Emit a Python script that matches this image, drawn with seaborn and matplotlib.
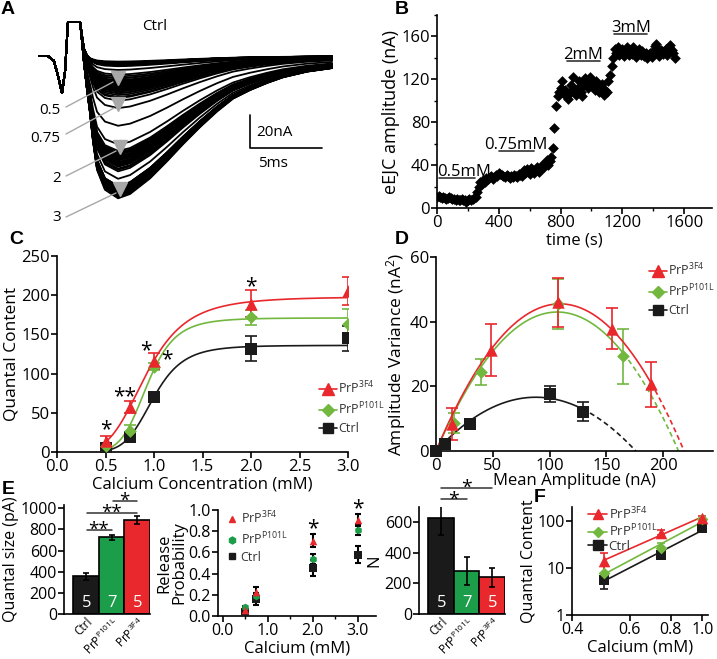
import numpy as np
import pandas as pd
import seaborn as sns
import matplotlib.pyplot as plt
from matplotlib.lines import Line2D
from matplotlib.ticker import FixedLocator, FixedFormatter, NullLocator, MultipleLocator

W, H = 717, 659

# ---------------- panel A : trace template
A_TIME_MS = [0, 0.69, 1.11, 1.39, 1.67, 1.88, 2.08, 2.78, 2.92, 3.06, 3.19, 3.40, 3.61, 3.82,
             4.10, 4.65, 5.56, 6.39, 7.78, 8.96, 10.07, 11.25, 12.43, 13.54, 14.72, 15.90,
             17.01, 18.68, 20.42]
A_ARTIFACT = [0, 0, -5.4, -21.5, -39.8, -16.1, 36.6, 36.6, 36.6, 21.5, 8.6, 2.2,
              0, 0, 0, 0, 0, 0, 0, 0, 0, 0, 0, 0, 0, 0, 0, 0, 0]
A_SHAPE = [0, 0, 0, 0, 0, 0, 0, 0, 0, 0.04, 0.1, 0.25, 0.4, 0.6, 0.8, 0.94, 1.0, 0.97,
           0.86, 0.74, 0.62, 0.50, 0.39, 0.30, 0.24, 0.19, 0.15, 0.11, 0.085]
A_LEVELS = ["0.5", "0.75", "2", "3"]

# ---------------- panel B : eEJC amplitude every 10 s
B_STEP_S = 10
B_AMP = [10, 11, 10, 9, 10, 9, 8, 9, 10, 9,
         8, 8, 7, 8, 7, 7, 8, 7, 7, 6, 7, 8, 7, 8, 9,
         10, 15, 20, 24, 22,
         26, 24, 28, 27, 29, 30, 27, 29, 31, 30,
         33, 32, 31, 30, 29, 31, 30, 28, 30, 29, 31, 30, 29, 32, 31, 30,
         35, 33, 36, 34, 32, 37, 35, 33, 36, 38, 34, 37, 40, 38,
         42, 45, 40, 44,
         48, 56, 75, 95, 104, 108,
         112, 118, 106, 110, 104, 102, 108, 115, 122, 110, 105, 112, 118, 108, 104,
         115, 121, 118, 112, 122, 119, 116, 110, 118, 114, 108, 112, 116, 105, 110,
         108, 118, 124, 132, 140,
         148, 145, 150, 143, 146, 148, 142, 145, 150, 143, 147, 144, 150, 145, 141,
         146, 148, 143, 146, 142, 145, 140, 143, 145, 141, 146, 151, 153, 145, 142,
         147, 144, 146, 148, 143, 150, 152, 147, 145, 140]
B_WIN_LABEL = ["0.5mM", "0.75mM", "2mM", "3mM"]
B_WIN_START = [15, 400, 840, 1145]
B_WIN_END = [245, 625, 1055, 1360]
B_WIN_LEVEL = [28, 53, 137, 162]
B_WIN_TEXT_X = [175, 512, 948, 1255]

# ---------------- panel C : quantal content vs calcium
CA_MM = [0.5, 0.75, 1.0, 2.0, 3.0]
QC_3F4 = [14, 57, 116, 189, 205]
QC_3F4_ERR = [6.5, 7.5, 10, 17, 18]
QC_P101L = [8, 27, 109, 172, 163]
QC_P101L_ERR = [3, 7, 4, 9.5, 19]
QC_CTRL = [5.6, 19.4, 70, 132, 145]
QC_CTRL_ERR = [2, 3, 4, 16, 16]
HILL_MAX = [198, 171, 136]      # 3F4, P101L, Ctrl
HILL_K = [0.92, 0.93, 0.99]
HILL_N = [4.4, 6.5, 6.4]

# ---------------- panel D : variance-mean
MEAN_3F4 = [13.8, 48.5, 107.8, 155.4, 189.4]
VAR_3F4 = [8.4, 31.3, 46.0, 37.8, 20.6]
VAR_3F4_ERR = [5, 8, 7.5, 6.3, 7]
MEAN_P101L = [15.9, 39.4, 107.8, 165.0]
VAR_P101L = [8.6, 24.4, 45.4, 29.3]
VAR_P101L_ERR = [3, 4, 7.7, 8.5]
MEAN_CTRL = [0, 7.9, 29.9, 100.4, 129.2]
VAR_CTRL = [0, 2.3, 8.2, 17.7, 12.2]
VAR_CTRL_ERR = [0, 0, 0, 2.5, 3]

# ---------------- panel E
GROUPS = ["Ctrl", "PrP$^{P101L}$", "PrP$^{3F4}$"]
N_NMJ = [5, 7, 5]
QSIZE = [355, 725, 889]
QSIZE_ERR = [33, 25, 38]
E1_SIG_LEFT = [0, 0, 1]
E1_SIG_RIGHT = [1, 2, 2]
E1_SIG_Y = [795, 959, 1072]
E1_SIG_TEXT = ["**", "**", "*"]

PR_CA = [0.5, 0.75, 2.0, 3.0]
PR_3F4 = [0.054, 0.229, 0.711, 0.905]
PR_3F4_ERR = [0.01, 0.04, 0.06, 0.06]
PR_P101L = [0.086, 0.19, 0.537, 0.816]
PR_P101L_ERR = [0.01, 0.03, 0.05, 0.05]
PR_CTRL = [0.038, 0.156, 0.451, 0.578]
PR_CTRL_ERR = [0.01, 0.05, 0.076, 0.08]
PR_SIG_X = [2.0, 3.0]

N_SITES = [631, 281, 239]
N_SITES_ERR = [112, 92, 65]
E3_SIG_LEFT = [0, 0]
E3_SIG_RIGHT = [1, 2]
E3_SIG_Y = [750, 827]

LEG_LABELS = ["PrP$^{3F4}$", "PrP$^{P101L}$", "Ctrl"]

RED = "#e8282c"
LIME = "#72b83f"
GREEN = "#1b9d4a"
BLACK = "#1a1a1a"

sns.set_style("ticks")
plt.rcParams['font.family'] = ['Open Sans', 'DejaVu Sans']
plt.rcParams['mathtext.default'] = 'regular'
plt.rcParams.update({
    'font.size': 11, 'axes.linewidth': 1.2, 'axes.edgecolor': 'black',
    'axes.facecolor': 'none',
    'axes.labelcolor': 'black', 'text.color': 'black',
    'xtick.color': 'black', 'ytick.color': 'black',
    'xtick.major.width': 1.2, 'ytick.major.width': 1.2,
    'xtick.minor.width': 1.0, 'ytick.minor.width': 1.0,
    'xtick.major.size': 4, 'ytick.major.size': 4,
    'xtick.minor.size': 2.5, 'ytick.minor.size': 2.5,
    'xtick.major.pad': 1, 'ytick.major.pad': 1, 'axes.labelpad': 1,
})

fig = plt.figure(figsize=(W / 100, H / 100), dpi=100, facecolor='white')


def add_ax(l, t, r, b):
    return fig.add_axes([l / W, 1 - b / H, (r - l) / W, (b - t) / H])


def ftext(x, y, s, **kw):
    fig.text(x / W, 1 - y / H, s, **kw)


def fline(xs, ys, **kw):
    fig.add_artist(Line2D([x / W for x in xs], [1 - y / H for y in ys],
                          transform=fig.transFigure, **kw))


def stars(ax, x, y, s, size=15):
    ax.annotate(s, (x, y), xytext=(0, -0.5 * size), textcoords='offset points',
                ha='center', va='baseline', fontsize=size, annotation_clip=False)


def despine(ax):
    ax.spines['top'].set_visible(False)
    ax.spines['right'].set_visible(False)


def small_legend(ax, cols, marks, sizes, x, y, line=True, **kw):
    handles = [Line2D([0], [0], color=c, marker=m, ms=s, mec=c, lw=1.2 if line else 0)
               for c, m, s in zip(cols, marks, sizes)]
    opts = dict(frameon=False, fontsize=9, handlelength=1.4, handletextpad=0.15,
                labelspacing=0.35, borderaxespad=0, labelcolor='#333333')
    opts.update(kw)
    ax.legend(handles, LEG_LABELS, loc='upper left', bbox_to_anchor=(x / W, 1 - y / H),
              bbox_transform=fig.transFigure, **opts)


# ================= A
axA = add_ax(38, 15, 340, 225)
axA.axis('off')
rows = []
for k, amp in enumerate(B_AMP):
    for t, art, sh in zip(A_TIME_MS, A_ARTIFACT, A_SHAPE):
        rows.append((k, t, art - amp * sh))
traces = pd.DataFrame(rows, columns=['trace', 't', 'i'])
sns.lineplot(data=traces, x='t', y='i', units='trace', estimator=None,
             color='black', lw=1.3, ax=axA)
axA.set_xlim(0, 20.97)
axA.set_ylim(-181.7, 44.1)

ftext(155, 27, "Ctrl", ha='center', va='center', fontsize=11)
for lab, (lx, ly), (x0, y0, x1, y1), (tx, ty) in zip(
        A_LEVELS,
        [(50, 110), (45, 138), (57, 179), (57, 217)],
        [(66, 107, 113, 82), (66, 134, 114, 108), (66, 176, 116, 151), (66, 217, 116, 193)],
        [(118, 78), (118, 104), (120, 147), (120, 189)]):
    ftext(lx, ly, lab, ha='center', va='center', fontsize=11)
    fline([x0, x1], [y0, y1], color='#a8a8a8', lw=1.0)
    fline([tx], [ty], marker='v', ms=10, color='#a8a8a8', mec='#a8a8a8', lw=0)
fline([250, 250, 322], [115, 148, 148], color='black', lw=1.2)
ftext(256, 133, "20nA", ha='left', va='center', fontsize=11)
ftext(273, 164, "5ms", ha='center', va='center', fontsize=11)

# ================= B
axB = add_ax(437, 15, 712, 208)
b_time = np.arange(len(B_AMP)) * B_STEP_S
sns.scatterplot(x=b_time, y=B_AMP, marker='D', s=30, color='black',
                edgecolor='black', linewidth=0, ax=axB)
for lab, s0, s1, lev, tx in zip(B_WIN_LABEL, B_WIN_START, B_WIN_END, B_WIN_LEVEL, B_WIN_TEXT_X):
    axB.plot([s0, s1], [lev, lev], color='#333333', lw=1.2)
    axB.text(tx, lev + 2, lab, ha='center', va='baseline', fontsize=12)
axB.set_xlim(0, 1780)
axB.set_ylim(0, 180)
axB.set_xticks([0, 400, 800, 1200, 1600])
axB.set_yticks([0, 40, 80, 120, 160])
axB.xaxis.set_minor_locator(MultipleLocator(200))
axB.yaxis.set_minor_locator(MultipleLocator(20))
axB.tick_params(labelsize=12)
axB.set_xlabel("time (s)", fontsize=12)
axB.set_ylabel("eEJC amplitude (nA)", fontsize=13)
despine(axB)

# ================= C
axC = add_ax(57, 256, 348, 452)
ca_fit = np.linspace(CA_MM[0], CA_MM[-1], 200)
c_sets = [(QC_3F4, QC_3F4_ERR, RED, '^', 80), (QC_P101L, QC_P101L_ERR, LIME, 'D', 42),
          (QC_CTRL, QC_CTRL_ERR, BLACK, 's', 70)]
for k in [2, 1, 0]:
    vals, err, col, mk, sz = c_sets[k]
    hill = HILL_MAX[k] * ca_fit ** HILL_N[k] / (HILL_K[k] ** HILL_N[k] + ca_fit ** HILL_N[k])
    sns.lineplot(x=ca_fit, y=hill, color=col, lw=1.2, ax=axC)
    axC.errorbar(CA_MM, vals, yerr=err, fmt='none', ecolor=col, elinewidth=1.2, capsize=4, capthick=1.2)
    sns.scatterplot(x=CA_MM, y=vals, marker=mk, s=sz, color=col, edgecolor=col, linewidth=0, ax=axC, zorder=5)
for x, y, s in zip([0.5, 0.7, 0.92, 1.13, 2.0], [35, 77, 135, 124, 217], ["*", "**", "*", "*", "*"]):
    stars(axC, x, y, s)
axC.set_xlim(0, 3.0)
axC.set_ylim(0, 250)
axC.set_xticks([0, 0.5, 1.0, 1.5, 2.0, 2.5, 3.0])
axC.set_yticks([0, 50, 100, 150, 200, 250])
axC.xaxis.set_major_formatter('{x:.1f}')
axC.tick_params(labelsize=12)
axC.set_xlabel("Calcium Concentration (mM)", fontsize=12)
axC.set_ylabel("Quantal Content", fontsize=12.5)
despine(axC)
small_legend(axC, [RED, LIME, BLACK], ['^', 'D', 's'], [8, 6, 7.5], 314, 375)

# ================= D
axD = add_ax(436, 257, 713, 451)
d_sets = [(MEAN_3F4, VAR_3F4, VAR_3F4_ERR, RED, '^', 80),
          (MEAN_P101L, VAR_P101L, VAR_P101L_ERR, LIME, 'D', 42),
          (MEAN_CTRL, VAR_CTRL, VAR_CTRL_ERR, BLACK, 's', 70)]
for k in [2, 1, 0]:
    mx, vy, ve, col, mk, sz = d_sets[k]
    mx = np.array(mx, float)
    coef, *_ = np.linalg.lstsq(np.column_stack([mx, mx ** 2]), np.array(vy, float), rcond=None)
    x_end = -coef[0] / coef[1]
    xs = np.linspace(0, mx.max(), 150)
    xd = np.linspace(mx.max(), x_end, 60)
    sns.lineplot(x=xs, y=coef[0] * xs + coef[1] * xs ** 2, color=col, lw=1.2, ax=axD)
    axD.plot(xd, coef[0] * xd + coef[1] * xd ** 2, color=col, lw=1.2, ls=(0, (3, 2)))
    axD.errorbar(mx, vy, yerr=ve, fmt='none', ecolor=col, elinewidth=1.2, capsize=4, capthick=1.2)
    sns.scatterplot(x=mx, y=vy, marker=mk, s=sz, color=col, edgecolor=col, linewidth=0, ax=axD,
                    zorder=5, clip_on=False)
axD.set_xlim(0, 244)
axD.set_ylim(0, 60)
axD.set_xticks([0, 50, 100, 150, 200])
axD.set_yticks([0, 20, 40, 60])
axD.tick_params(labelsize=12)
axD.set_xlabel("Mean Amplitude (nA)", fontsize=12, labelpad=-1)
axD.set_ylabel("Amplitude Variance (nA$^2$)", fontsize=12.5)
despine(axD)
small_legend(axD, [RED, LIME, BLACK], ['^', 'D', 's'], [8, 6, 7.5], 644, 257)


# ================= E bars
def bar_panel(ax, vals, errs, ylim, yticks):
    sns.barplot(x=GROUPS, y=vals, hue=GROUPS, palette=[BLACK, GREEN, RED], width=1.0,
                saturation=1, edgecolor='black', linewidth=1.2, legend=False, ax=ax)
    ax.errorbar(range(3), vals, yerr=errs, fmt='none', ecolor='black', elinewidth=1.2,
                capsize=2.5, capthick=1.2)
    for i, n in enumerate(N_NMJ):
        ax.text(i, ylim * 0.1, str(n), color='white', ha='center', va='center', fontsize=12)
    ax.set_xlim(-0.87, 2.5)
    ax.set_ylim(0, ylim)
    ax.set_yticks(yticks)
    ax.set_xlabel("")
    ax.tick_params(axis='y', labelsize=11.5)
    ax.tick_params(axis='x', length=0, labelsize=8.5, pad=1)
    for lab in ax.get_xticklabels():
        lab.set_rotation(45)
        lab.set_ha('right')
        lab.set_rotation_mode('anchor')
    despine(ax)


axE1 = add_ax(64, 505, 150, 614)
bar_panel(axE1, QSIZE, QSIZE_ERR, 1030, [0, 200, 400, 600, 800, 1000])
axE1.set_ylabel("Quantal size (pA)", fontsize=11.5)
for l, r, y, s in zip(E1_SIG_LEFT, E1_SIG_RIGHT, E1_SIG_Y, E1_SIG_TEXT):
    axE1.plot([l + 0.05, r], [y, y], color='#333333', lw=1.1, clip_on=False)
    stars(axE1, (l + r) / 2, y + 40, s, size=13.5)

axE3 = add_ax(419, 507, 505, 614)
bar_panel(axE3, N_SITES, N_SITES_ERR, 700, [0, 200, 400, 600])
axE3.set_ylabel("N", fontsize=12, labelpad=2)
for l, r, y in zip(E3_SIG_LEFT, E3_SIG_RIGHT, E3_SIG_Y):
    axE3.plot([l, r], [y, y], color='#333333', lw=1.1, clip_on=False)
    stars(axE3, (l + r) / 2, y + 30, "*", size=14)

# ================= E release probability
axE2 = add_ax(218, 510, 376, 616)
e_sets = [(PR_3F4, PR_3F4_ERR, RED, '^', 30), (PR_P101L, PR_P101L_ERR, GREEN, 'h', 30),
          (PR_CTRL, PR_CTRL_ERR, BLACK, 's', 30)]
for k in [2, 1, 0]:
    vals, err, col, mk, sz = e_sets[k]
    axE2.errorbar(PR_CA, vals, yerr=err, fmt='none', ecolor='black', elinewidth=1.5, capsize=2, capthick=1.5)
    sns.scatterplot(x=PR_CA, y=vals, marker=mk, s=sz, color=col, edgecolor=col, linewidth=0,
                    ax=axE2, zorder=5)
for x, y in zip(PR_SIG_X, [0.87, 1.06]):
    stars(axE2, x, y, "*", size=15)
axE2.set_xlim(-0.1, 3.4)
axE2.set_ylim(0, 1.0)
axE2.set_xticks([0, 1, 2, 3])
axE2.xaxis.set_major_formatter('{x:.1f}')
axE2.xaxis.set_minor_locator(MultipleLocator(0.5))
axE2.set_yticks([0, 0.2, 0.4, 0.6, 0.8, 1.0])
axE2.yaxis.set_major_formatter('{x:.1f}')
axE2.tick_params(labelsize=11.5)
axE2.set_xlabel("Calcium (mM)", fontsize=12)
axE2.set_ylabel("Release\nProbability", fontsize=12, linespacing=0.9)
despine(axE2)
small_legend(axE2, [RED, GREEN, BLACK], ['^', 'h', 's'], [5, 5, 5], 222, 505, line=False,
             handlelength=0.8, handletextpad=0.3, labelspacing=0.3)

# ================= F
axF = add_ax(572, 507, 708, 615)
f_sets = [(QC_3F4, QC_3F4_ERR, RED, '^', 70), (QC_P101L, QC_P101L_ERR, LIME, 'D', 36),
          (QC_CTRL, QC_CTRL_ERR, BLACK, 's', 60)]
ca_low = np.array(CA_MM[:3])
for k in [2, 1, 0]:
    vals, err, col, mk, sz = f_sets[k]
    v = np.array(vals[:3], float)
    slope, icpt = np.polyfit(np.log10(ca_low), np.log10(v), 1)
    xs = np.array([ca_low.min(), ca_low.max()])
    sns.lineplot(x=xs, y=10 ** (icpt + slope * np.log10(xs)), color=col, lw=1.2, ax=axF)
    axF.errorbar(ca_low, v, yerr=err[:3], fmt='none', ecolor=col, elinewidth=1.2, capsize=3, capthick=1.2)
    sns.scatterplot(x=ca_low, y=v, marker=mk, s=sz, color=col, edgecolor=col, linewidth=0, ax=axF,
                    zorder=5, clip_on=False)
axF.set_xscale('log')
axF.set_yscale('log')
axF.set_xlim(0.4, 1.04)
axF.set_ylim(1, 200)
axF.xaxis.set_major_locator(FixedLocator([0.4, 0.6, 0.8, 1.0]))
axF.xaxis.set_major_formatter(FixedFormatter(["0.4", "0.6", "0.8", "1.0"]))
axF.xaxis.set_minor_locator(NullLocator())
axF.yaxis.set_major_locator(FixedLocator([1, 10, 100]))
axF.yaxis.set_major_formatter(FixedFormatter(["1", "10", "100"]))
axF.yaxis.set_minor_locator(NullLocator())
axF.tick_params(labelsize=11.5)
axF.set_xlabel("Calcium (mM)", fontsize=12)
axF.set_ylabel("Quantal Content", fontsize=11.5)
despine(axF)
small_legend(axF, [RED, LIME, BLACK], ['^', 'D', 's'], [7, 5, 6.5], 583, 500,
             labelspacing=0.05, fontsize=9.5)

# ================= panel letters
for lab, x, y in [("A", 8, 10), ("B", 402, 9), ("C", 16, 240), ("D", 402, 240), ("E", 8, 489), ("F", 540, 497)]:
    ftext(x, y, lab, ha='center', va='center', fontsize=14, fontweight='bold', family='Liberation Sans')

fig.savefig("out.png", dpi=100, facecolor='white')
